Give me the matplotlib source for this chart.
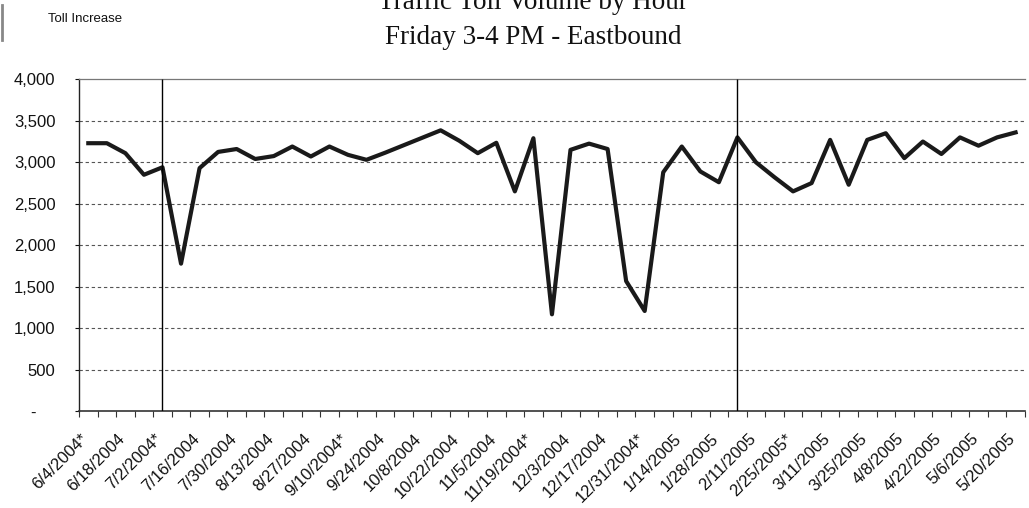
import matplotlib
matplotlib.use("Agg")
import matplotlib.pyplot as plt
import matplotlib.transforms as mtransforms
from matplotlib.lines import Line2D
from matplotlib.ticker import FixedLocator, FuncFormatter

# weekly Friday 3-4 PM eastbound volume, 6/4/2004 .. 5/20/2005
volume = [3230, 3230, 3110, 2850, 2940, 1780, 2930, 3125, 3160, 3040,
          3075, 3190, 3070, 3190, 3090, 3030, 3115, 3205, 3295, 3385,
          3260, 3110, 3235, 2650, 3290, 1170, 3150, 3225, 3160, 1570,
          1210, 2880, 3190, 2890, 2760, 3300, 3000, 2820, 2650, 2750,
          3270, 2730, 3270, 3350, 3050, 3250, 3100, 3300, 3200, 3300,
          3360]

tick_labels = ["6/4/2004*", "6/18/2004", "7/2/2004*", "7/16/2004", "7/30/2004",
               "8/13/2004", "8/27/2004", "9/10/2004*", "9/24/2004", "10/8/2004",
               "10/22/2004", "11/5/2004", "11/19/2004*", "12/3/2004", "12/17/2004",
               "12/31/2004*", "1/14/2005", "1/28/2005", "2/11/2005", "2/25/2005*",
               "3/11/2005", "3/25/2005", "4/8/2005", "4/22/2005", "5/6/2005",
               "5/20/2005"]

# weeks where a toll increase took effect
toll_increase_weeks = [4, 35]

y_ticks = [0, 500, 1000, 1500, 2000, 2500, 3000, 3500, 4000]

sans = "Liberation Sans"
serif = "Liberation Serif"

fig = plt.figure(figsize=(10.29, 5.08), dpi=100)
ax = fig.add_axes([0.0768, 0.19, 0.9192, 0.654])

x = list(range(len(volume)))
ax.plot(x, volume, color="#1a1a1a", linewidth=3.0, solid_joinstyle="round",
        zorder=3)
ax.vlines(toll_increase_weeks, 0, 4000, color="black", linewidth=1.0, zorder=4)

ax.set_xlim(-0.5, len(volume) - 0.5)
ax.set_ylim(0, 4000)

# grid lines
for v in y_ticks[1:-1]:
    ax.axhline(v, color="#555555", linewidth=0.8, linestyle=(0, (3, 2.5)),
               zorder=1)

# spines
ax.spines["right"].set_visible(False)
ax.spines["top"].set_linestyle((0, (1, 1)))
ax.spines["top"].set_color("#777777")
ax.spines["top"].set_linewidth(0.9)
ax.spines["left"].set_color("#222222")
ax.spines["left"].set_linewidth(1.0)
ax.spines["bottom"].set_color("#333333")
ax.spines["bottom"].set_linewidth(1.2)

# y axis
ax.yaxis.set_major_locator(FixedLocator(y_ticks))
ax.yaxis.set_major_formatter(FuncFormatter(
    lambda v, p: "-    " if v == 0 else "{:,.0f}".format(v)))
ax.tick_params(axis="y", direction="out", length=3, width=0.8, pad=14,
               labelsize=12, colors="#111111")
for lab in ax.get_yticklabels():
    lab.set_fontfamily(sans)

# x axis: tick marks between categories, labels every second week
ax.xaxis.set_minor_locator(FixedLocator([i - 0.5 for i in range(len(volume) + 1)]))
ax.xaxis.set_major_locator(FixedLocator(list(range(0, len(volume), 2))))
ax.set_xticklabels(tick_labels)
ax.tick_params(axis="x", which="minor", direction="out", length=4, width=0.8,
               color="#333333")
ax.tick_params(axis="x", which="major", length=0, pad=14, labelsize=12,
               colors="#111111")
shift = mtransforms.ScaledTranslation(-8 / 100, 0, fig.dpi_scale_trans)
for lab in ax.get_xticklabels():
    lab.set_rotation(45)
    lab.set_ha("right")
    lab.set_va("top")
    lab.set_rotation_mode("anchor")
    lab.set_fontfamily(sans)
    lab.set_transform(lab.get_transform() + shift)

# titles
fig.text(0.518, 1 - 9 / 508, "Traffic Toll Volume by Hour", ha="center",
         va="baseline", fontsize=19.5, family=serif, color="#111111")
fig.text(0.518, 1 - 44 / 508, "Friday 3-4 PM - Eastbound", ha="center",
         va="baseline", fontsize=19.5, family=serif, color="#111111")

# legend key (clipped at the left edge)
fig.add_artist(Line2D([0.0015, 0.0015], [1 - 40 / 508, 1 - 5 / 508],
                      transform=fig.transFigure, color="#888888", linewidth=2))
fig.text(48 / 1029, 1 - 22 / 508, "Toll Increase", ha="left", va="baseline",
         fontsize=9.5, family=sans, color="#111111")

fig.savefig("out.png", dpi=100)
